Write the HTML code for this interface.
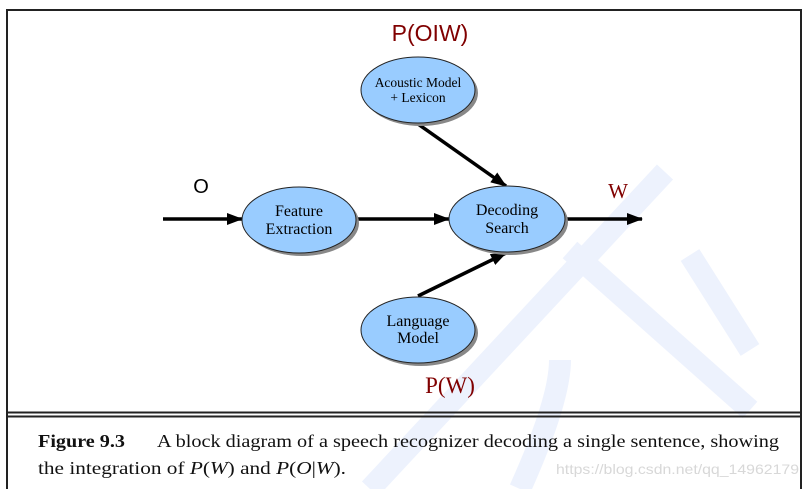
<!DOCTYPE html>
<html><head><meta charset="utf-8"><style>
html,body{margin:0;padding:0;background:#fff;}
svg{display:block;}
</style></head><body>
<svg width="810" height="489" viewBox="0 0 810 489" xmlns="http://www.w3.org/2000/svg">
<defs>
<marker id="ah" markerWidth="16" markerHeight="12" refX="15" refY="6" orient="auto" markerUnits="userSpaceOnUse">
<path d="M0,0 L16,6 L0,12 z" fill="#000"/></marker>
</defs>
<!-- watermark -->
<g stroke="#edf2fd" stroke-width="22" fill="none" stroke-linecap="butt">
<line x1="665" y1="172" x2="370" y2="489"/>
<line x1="570" y1="250" x2="750" y2="410"/>
<line x1="690" y1="255" x2="750" y2="350"/>
<path d="M520 489 Q560 400 560 360" />
</g>
<!-- frame -->
<path d="M7 489 V10 H801 V489" fill="none" stroke="#222" stroke-width="2"/>
<line x1="7" y1="412.5" x2="801" y2="412.5" stroke="#222" stroke-width="2"/>
<line x1="7" y1="416.5" x2="801" y2="416.5" stroke="#222" stroke-width="2"/>
<!-- arrows -->
<g stroke="#000" stroke-width="3.5" marker-end="url(#ah)">
<line x1="163" y1="219" x2="242" y2="219"/>
<line x1="357" y1="219" x2="449" y2="219"/>
<line x1="565" y1="219" x2="642" y2="219"/>
<line x1="418" y1="124" x2="506" y2="186"/>
<line x1="418" y1="296" x2="506" y2="253"/>
</g>
<!-- ellipses -->
<g>
<ellipse cx="302" cy="223" rx="57" ry="33" fill="#888"/>
<ellipse cx="299" cy="220" rx="57" ry="33" fill="#99ccff" stroke="#222" stroke-width="1"/>
<ellipse cx="510" cy="222" rx="58" ry="33" fill="#888"/>
<ellipse cx="507" cy="219" rx="58" ry="33" fill="#99ccff" stroke="#222" stroke-width="1"/>
<ellipse cx="421" cy="93" rx="57" ry="33" fill="#888"/>
<ellipse cx="418" cy="90" rx="57" ry="33" fill="#99ccff" stroke="#222" stroke-width="1"/>
<ellipse cx="421" cy="333" rx="57" ry="33" fill="#888"/>
<ellipse cx="418" cy="330" rx="57" ry="33" fill="#99ccff" stroke="#222" stroke-width="1"/>
</g>
<g font-family="Liberation Serif, serif" fill="#000" text-anchor="middle">
<text x="299" y="216" font-size="16">Feature</text>
<text x="299" y="234" font-size="16">Extraction</text>
<text x="507" y="215" font-size="16">Decoding</text>
<text x="507" y="233" font-size="16">Search</text>
<text x="418" y="87" font-size="13.5">Acoustic Model</text>
<text x="418" y="102" font-size="13.5">+ Lexicon</text>
<text x="418" y="326" font-size="16">Language</text>
<text x="418" y="343" font-size="16">Model</text>
</g>
<text x="430" y="41" font-family="Liberation Sans, sans-serif" font-size="23" fill="#800000" text-anchor="middle">P(OIW)</text>
<text x="201" y="193" font-family="Liberation Sans, sans-serif" font-size="20" fill="#000" text-anchor="middle">O</text>
<text x="618" y="198" font-family="Liberation Serif, serif" font-size="21" fill="#800000" text-anchor="middle">W</text>
<text x="450" y="393" font-family="Liberation Serif, serif" font-size="23" fill="#800000" text-anchor="middle">P(W)</text>
<!-- caption -->
<g font-family="Liberation Serif, serif" font-size="18" fill="#111">
<text x="38" y="447" font-weight="bold" textLength="87" lengthAdjust="spacingAndGlyphs">Figure 9.3</text>
<text x="157" y="447" textLength="622" lengthAdjust="spacingAndGlyphs">A block diagram of a speech recognizer decoding a single sentence, showing</text>
<text x="38" y="474" textLength="308" lengthAdjust="spacingAndGlyphs">the integration of <tspan font-style="italic">P</tspan>(<tspan font-style="italic">W</tspan>) and <tspan font-style="italic">P</tspan>(<tspan font-style="italic">O</tspan>|<tspan font-style="italic">W</tspan>).</text>
</g>
<text x="556" y="474" font-family="Liberation Sans, sans-serif" font-size="14" fill="#d8d8d8" textLength="243" lengthAdjust="spacingAndGlyphs">https://blog.csdn.net/qq_14962179</text>
</svg>
</body></html>
